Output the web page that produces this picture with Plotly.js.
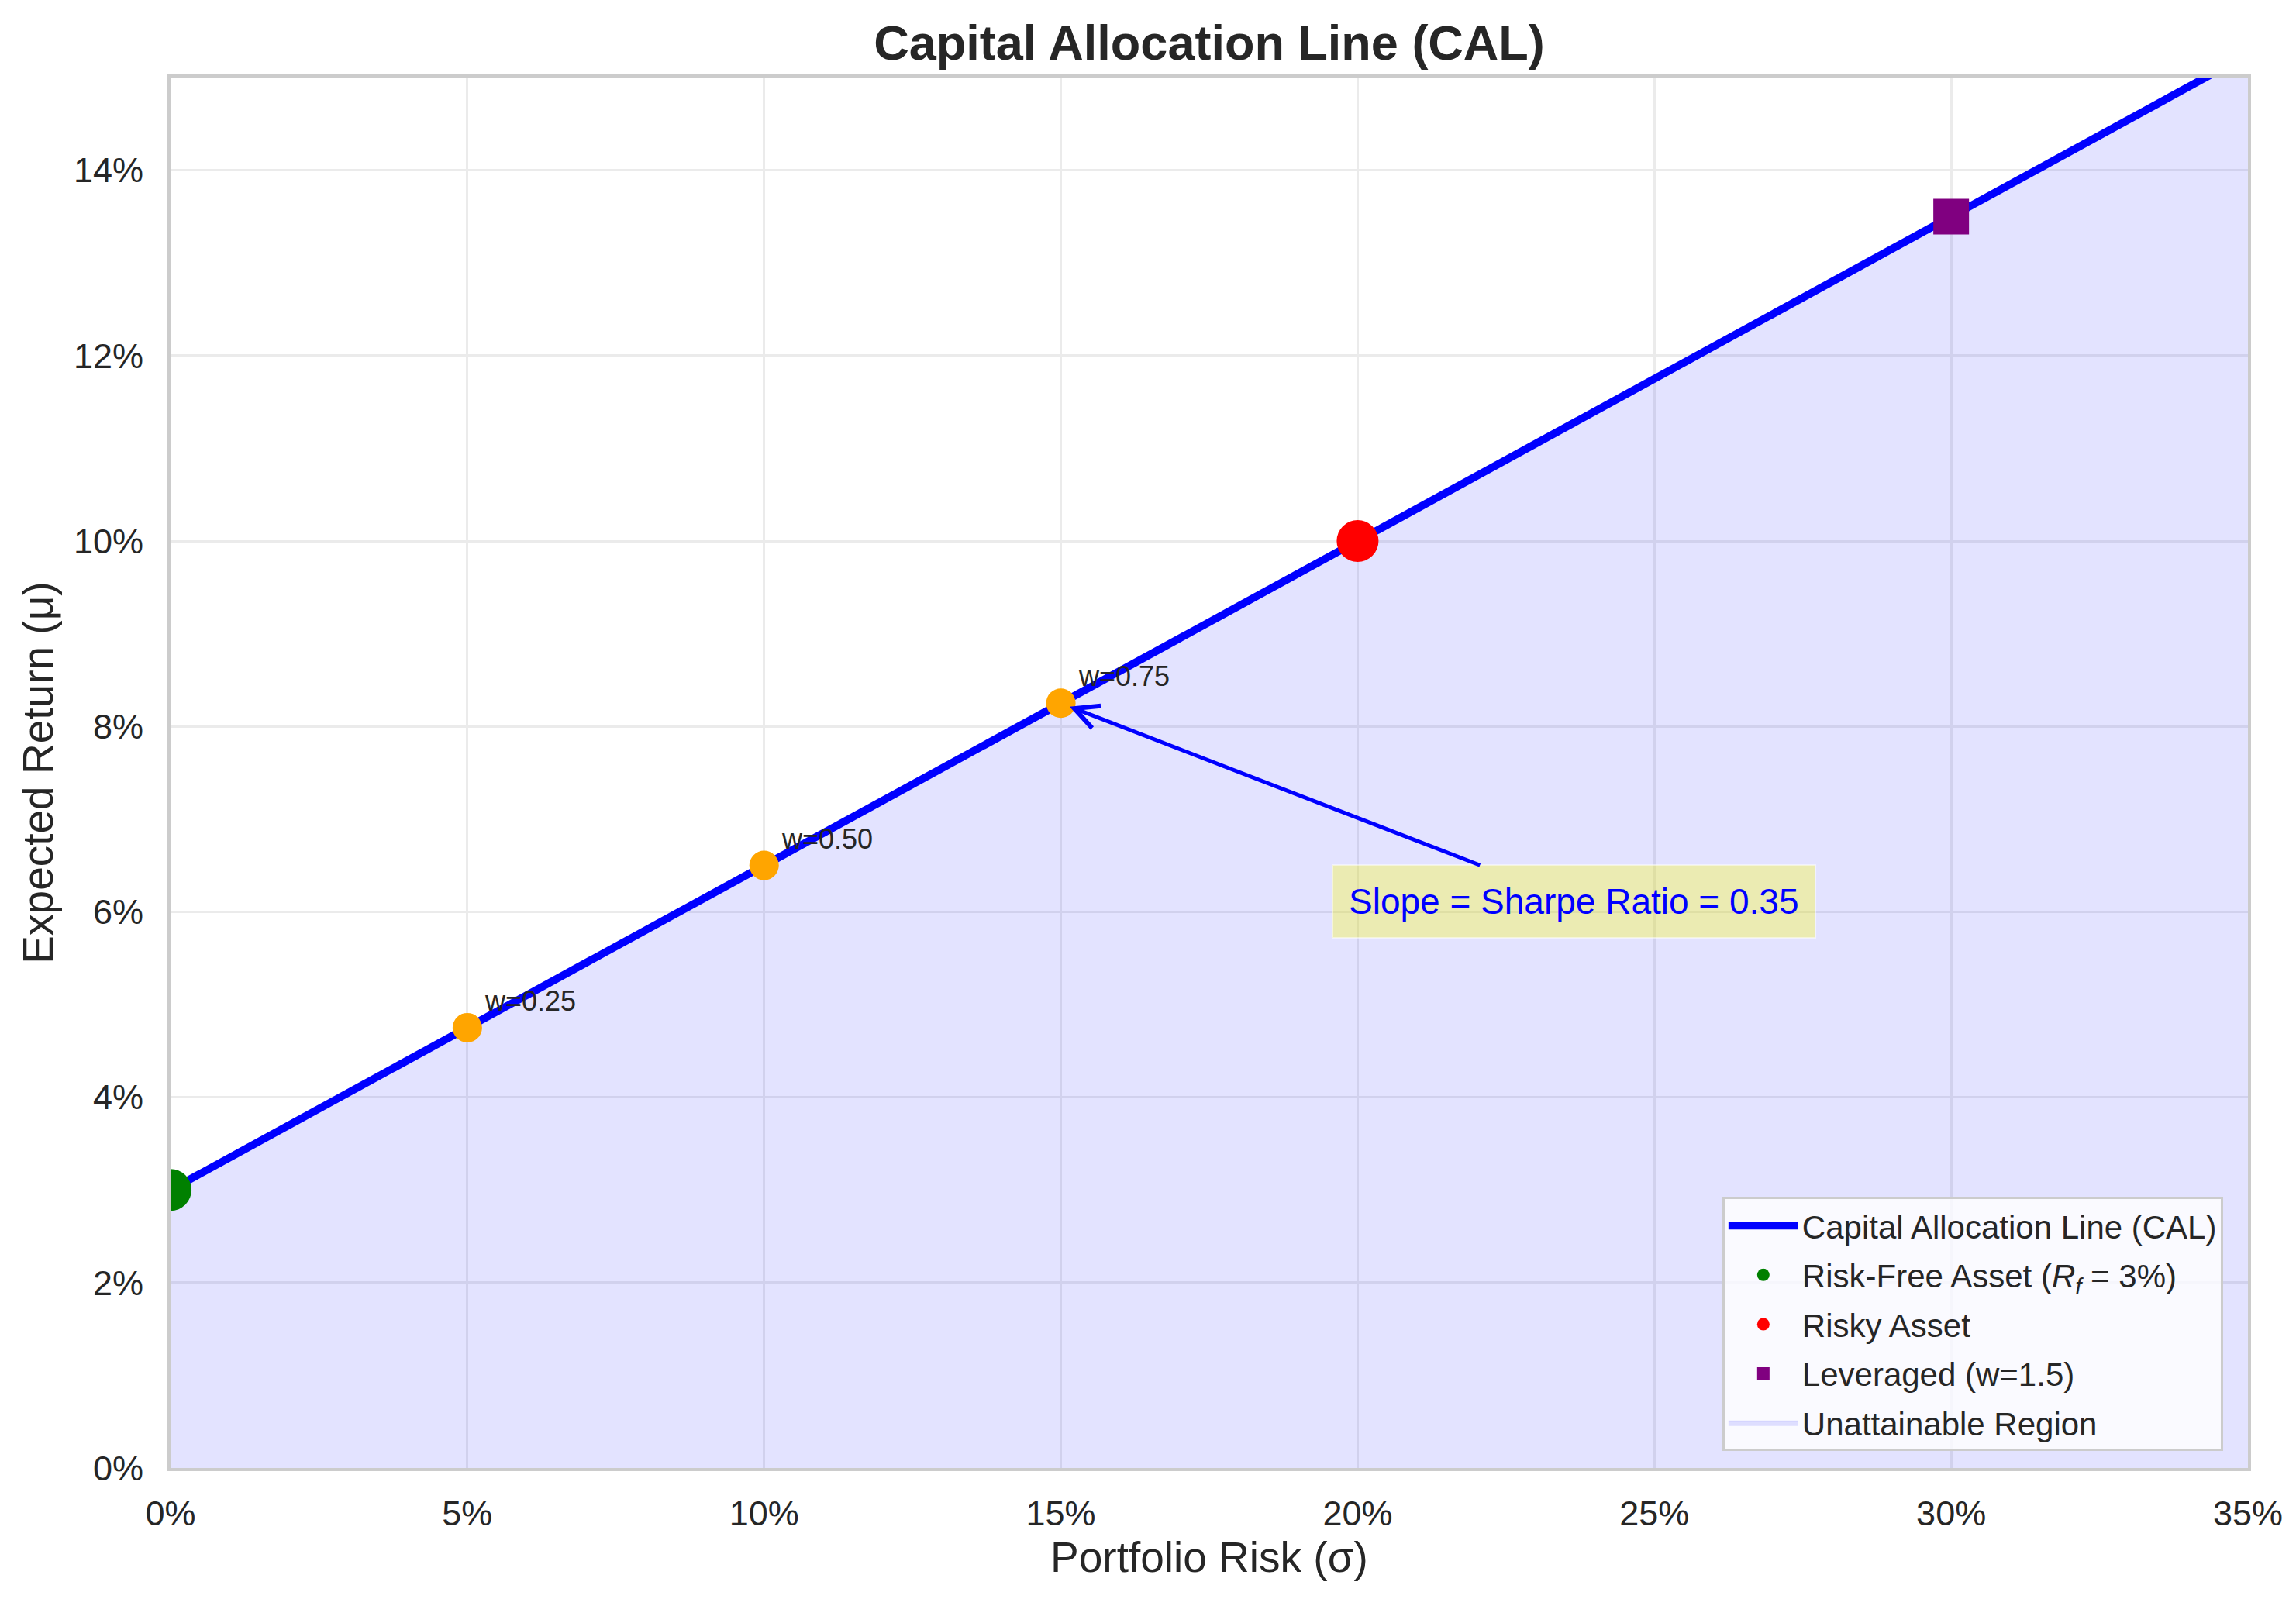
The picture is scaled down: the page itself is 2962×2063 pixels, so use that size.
<!DOCTYPE html>
<html>
<head>
<meta charset="utf-8">
<script src="https://cdn.plot.ly/plotly-3.0.1.min.js"></script>
<style>
  body { margin: 0; background: #fff; }
  #cal_plot { width: 2962px; height: 2063px; }
</style>
</head>
<body>
<div id="cal_plot"></div>
<script>
// Capital Allocation Line
const calSigma = [0, 0.35],
  calReturn = [0.03, 0.1525];

const rfSigma = [0], rfReturn = [0.03];
const riskySigma = [0.20], riskyReturn = [0.10];
const levSigma = [0.30], levReturn = [0.135];

// mixed portfolios on the line
const mixSigma = [0.05, 0.10, 0.15],
  mixReturn = [0.0475, 0.065, 0.0825],
  mixLabels = ["w=0.25", "w=0.50", "w=0.75"];

const sharpeText = "Slope = Sharpe Ratio = 0.35",
  sharpeTarget = [0.15, 0.0825],
  sharpeBox = [0.2365, 0.0611];

const FONT = "Liberation Sans, Arial, sans-serif",
  INK = "#262626";

var region = {
  x: calSigma, y: calReturn,
  mode: "lines", fill: "tozeroy",
  fillcolor: "rgba(0,0,255,0.11)",
  line: {color: "rgba(0,0,255,0.12)", width: 2},
  name: "Unattainable Region", legendrank: 5, legendgroup: "g5"
};

var cal = {
  x: calSigma, y: calReturn,
  mode: "lines", line: {color: "#0000ff", width: 10},
  name: "Capital Allocation Line (CAL)", legendrank: 1, legendgroup: "g1"
};

var mix = {
  x: mixSigma, y: mixReturn,
  mode: "markers", marker: {color: "orange", size: 38},
  showlegend: false
};

var rf = {
  x: rfSigma, y: rfReturn,
  mode: "markers", marker: {color: "green", size: 54},
  name: "Risk-Free Asset (<i>R</i><sub><i>f</i></sub> = 3%)", legendrank: 2, legendgroup: "g2"
};

var risky = {
  x: riskySigma, y: riskyReturn,
  mode: "markers", marker: {color: "red", size: 54},
  name: "Risky Asset", legendrank: 3, legendgroup: "g3"
};

var lev = {
  x: levSigma, y: levReturn,
  mode: "markers", marker: {color: "purple", size: 46, symbol: "square"},
  name: "Leveraged (w=1.5)", legendrank: 4, legendgroup: "g4"
};

var notes = mixLabels.map((t, i) => ({
  x: mixSigma[i], y: mixReturn[i], text: t,
  showarrow: false, xanchor: "left", yanchor: "bottom",
  xshift: 20, yshift: 12,
  font: {family: FONT, size: 36, color: INK}
}));

notes.push({
  x: sharpeTarget[0], y: sharpeTarget[1],
  ax: sharpeBox[0], ay: sharpeBox[1], axref: "x", ayref: "y",
  text: sharpeText, showarrow: true,
  arrowhead: 5, arrowsize: 1.2, arrowwidth: 5, arrowcolor: "#0000ff",
  standoff: 12,
  font: {family: FONT, size: 46, color: "#0000ff"},
  bgcolor: "rgba(255,255,0,0.3)", bordercolor: "rgba(255,255,255,0.5)",
  borderwidth: 2, borderpad: 20
});

var axisCommon = {
  showline: true, mirror: true, linecolor: "#cccccc", linewidth: 4,
  showgrid: true, gridcolor: "#ebebeb", gridwidth: 3,
  zeroline: false, ticks: "",
  tickfont: {family: FONT, size: 45, color: INK},
  tickformat: ".0%"
};

var layout = {
  width: 2962, height: 2063,
  margin: {l: 220, r: 62, t: 100, b: 169},
  paper_bgcolor: "#fff", plot_bgcolor: "#fff",
  font: {family: FONT, color: INK},
  title: {
    text: "<b>Capital Allocation Line (CAL)</b>",
    font: {family: FONT, size: 63, color: INK},
    x: 0.5, xref: "paper", yref: "container",
    y: 1 - 55 / 2063, yanchor: "middle"
  },
  xaxis: Object.assign({}, axisCommon, {
    range: [0, 0.35], dtick: 0.05, tick0: 0,
    ticklabelstandoff: 16,
    title: {text: "Portfolio Risk (σ)", font: {family: FONT, size: 55, color: INK}, standoff: 12}
  }),
  yaxis: Object.assign({}, axisCommon, {
    range: [0, 0.15], dtick: 0.02, tick0: 0,
    ticklabelstandoff: 22,
    title: {text: "Expected Return (μ)", font: {family: FONT, size: 55, color: INK}, standoff: 10}
  }),
  legend: {
    x: 0.988, y: 0.012, xanchor: "right", yanchor: "bottom",
    bgcolor: "rgba(255,255,255,0.8)", bordercolor: "#cccccc", borderwidth: 3,
    font: {family: FONT, size: 42, color: INK},
    traceorder: "grouped", tracegroupgap: 6, itemwidth: 90
  },
  annotations: notes,
  showlegend: true
};

Plotly.newPlot("cal_plot", [region, cal, mix, rf, risky, lev], layout, {displayModeBar: false});
</script>
</body>
</html>
